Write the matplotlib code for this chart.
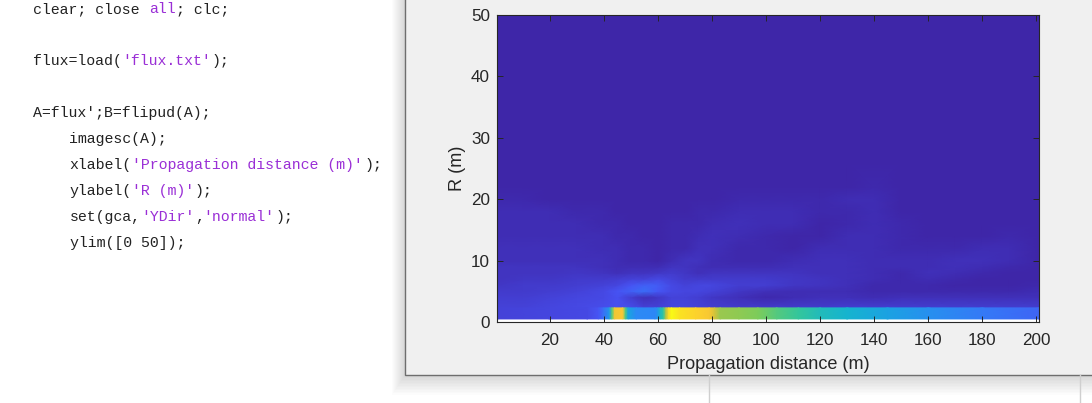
#!/usr/bin/env python3

import numpy as np
import matplotlib
matplotlib.use('Agg')
import matplotlib.pyplot as plt
from matplotlib.colors import LinearSegmentedColormap
from matplotlib.patches import Rectangle

plt.rcParams['font.family'] = ['Liberation Sans', 'DejaVu Sans']

# code listing, each line = (indent, [(text, is_string), ...])
code_lines = [
    (9, 0, [('clear; close ', 0), ('all', 1), ('; clc;', 0)]),
    (61, 0, [('flux=load(', 0), ("'flux.txt'", 1), (');', 0)]),
    (113, 0, [("A=flux';B=flipud(A);", 0)]),
    (139, 1, [('imagesc(A);', 0)]),
    (165, 1, [('xlabel(', 0), ("'Propagation distance (m)'", 1), (');', 0)]),
    (191, 1, [('ylabel(', 0), ("'R (m)'", 1), (');', 0)]),
    (217, 1, [('set(gca,', 0), ("'YDir'", 1), (',', 0), ("'normal'", 1), (');', 0)]),
    (243, 1, [('ylim([0 50]);', 0)]),
]

# flux along the axis (bottom band), percent of colour range
band_x = [0.5, 20, 34, 38, 40, 42, 43, 44, 47, 48, 49, 52, 59, 60, 61, 62, 63, 64, 65,
          68, 74, 79, 81, 83, 90, 97, 104, 112, 120, 130, 145, 160, 180, 201]
band_v = [8, 9, 10, 13, 20, 30, 55, 84, 87, 55, 34, 26, 25, 30, 42, 48, 72, 92, 100,
          94, 90, 86, 78, 67, 65, 62, 55, 49, 43, 39, 33, 28, 22, 17]

# flux above the band, percent of colour range
field_x = [0.5, 10, 20, 30, 40, 45, 50, 55, 60, 65, 70, 75, 80, 90, 100, 110, 120,
           130, 140, 150, 160, 170, 180, 190, 201]
field_r = [2.3, 4, 5, 6, 7, 8, 9, 10, 12, 14, 16, 18, 20, 22, 26, 50]
field_v = [
    [8, 8, 9, 10, 11, 12, 11, 8, 8, 9, 9, 8, 7, 6, 6, 6, 6, 7, 7, 7, 7, 7, 7, 7, 7],
    [7, 7, 8, 9, 10, 12, 7, 3, 5, 8, 8, 7, 5, 3, 1, 2, 3, 3, 2, 3, 3, 3, 3, 3, 3],
    [6, 6, 7, 8, 10, 13, 16, 19, 14, 10, 9, 9, 8, 5, 3, 2, 2, 2, 1, 1, 1, 1, 1, 1, 2],
    [5, 6, 6, 7, 8, 9, 13, 16, 15, 10, 8, 9, 9, 7, 7, 5, 4, 3, 1, 1, 1, 0, 0, 0, 1],
    [4, 5, 5, 6, 6, 7, 8, 8, 10, 8, 6, 6, 6, 6, 6, 5, 4, 3, 2, 1, 2, 1, 0, 0, 0],
    [4, 4, 4, 5, 4, 3, 4, 4, 5, 6, 5, 3, 4, 4, 4, 4, 3, 3, 2, 1, 3, 2, 1, 0, 0],
    [4, 4, 4, 4, 3, 2, 2, 2, 2, 4, 4, 3, 2, 2, 2, 3, 3, 3, 2, 2, 2, 3, 2, 1, 0],
    [3, 3, 3, 3, 3, 2, 1, 1, 0, 2, 4, 4, 2, 1, 1, 2, 3, 3, 2, 2, 2, 3, 3, 2, 0],
    [3, 3, 3, 3, 2, 2, 1, 1, 0, 1, 1, 3, 3, 1, 1, 0, 2, 2, 2, 1, 1, 1, 2, 2, 0],
    [2, 2, 2, 2, 2, 1, 1, 0, 0, 1, 1, 2, 3, 2, 1, 0, 0, 2, 2, 1, 0, 0, 0, 1, 0],
    [2, 2, 2, 2, 1, 1, 0, 0, 0, 1, 1, 1, 2, 3, 2, 2, 0, 1, 2, 1, 0, 0, 0, 0, 0],
    [2, 2, 2, 1, 1, 0, 0, 0, 0, 0, 0, 1, 1, 2, 2, 2, 1, 1, 2, 0, 0, 0, 0, 0, 0],
    [1, 1, 0, 0, 0, 0, 0, 0, 0, 0, 0, 0, 0, 1, 1, 1, 1, 2, 2, 0, 0, 0, 0, 0, 0],
    [0, 0, 0, 0, 0, 0, 0, 0, 0, 0, 0, 0, 0, 0, 0, 0, 0, 0, 1, 0, 0, 0, 0, 0, 0],
    [0, 0, 0, 0, 0, 0, 0, 0, 0, 0, 0, 0, 0, 0, 0, 0, 0, 0, 0, 0, 0, 0, 0, 0, 0],
    [0, 0, 0, 0, 0, 0, 0, 0, 0, 0, 0, 0, 0, 0, 0, 0, 0, 0, 0, 0, 0, 0, 0, 0, 0],
]

x_ticks = [20, 40, 60, 80, 100, 120, 140, 160, 180, 200]
y_ticks = [0, 10, 20, 30, 40, 50]

# parula by hand
parula = LinearSegmentedColormap.from_list('parula', [
    (0.00, (0.2422, 0.1504, 0.6603)),
    (0.125, (0.2810, 0.3228, 0.9579)),
    (0.25, (0.1786, 0.5289, 0.9682)),
    (0.375, (0.0689, 0.6948, 0.8394)),
    (0.50, (0.2161, 0.7843, 0.5923)),
    (0.625, (0.5044, 0.7993, 0.3480)),
    (0.75, (0.7800, 0.7600, 0.2400)),
    (0.875, (0.9955, 0.7861, 0.1968)),
    (1.00, (0.9769, 0.9839, 0.0805)),
])

W, H = 1092, 403
fig = plt.figure(figsize=(W / 100, H / 100), dpi=100, facecolor='white')

# background in pixel coordinates
bg = fig.add_axes([0, 0, 1, 1])
bg.set_xlim(0, W)
bg.set_ylim(H, 0)
bg.axis('off')

bg.plot([709, 709], [375, H], color='#cfcfcf', lw=1)
bg.plot([1080, 1080], [375, H], color='#cfcfcf', lw=1)
# window shadow
for i in range(14):
    bg.add_patch(Rectangle((405 - i, 0), W, 375 + 1.5 * i, color='black', alpha=0.012, lw=0))
bg.add_patch(Rectangle((405, -2), W, 377, facecolor='#f0f0f0', edgecolor='#6e6e6e', lw=1))

char_w = 8.95
for y, indent, parts in code_lines:
    x = 33 if indent == 0 else 69.5
    for text, is_string in parts:
        bg.text(x, y, text, family='Liberation Mono', fontsize=10.7, va='center', ha='left',
                color='#9a2fd6' if is_string else '#222222')
        x += len(text) * char_w

# the chart itself
ax = fig.add_axes([497 / W, 1 - 322 / H, (1039 - 497) / W, (322 - 15) / H])
ax.set_facecolor('white')
ax.pcolormesh(field_x, field_r, np.array(field_v) / 100, cmap=parula, vmin=0, vmax=1,
              shading='gouraud', rasterized=True)
ax.pcolormesh(band_x, [0.5, 2.3], np.array([band_v, band_v]) / 100, cmap=parula, vmin=0, vmax=1,
              shading='gouraud', rasterized=True)
ax.set_xlim(0.5, 201)
ax.set_ylim(0, 50)
ax.set_xticks(x_ticks)
ax.set_yticks(y_ticks)
ax.tick_params(direction='in', top=True, right=True, length=4, width=0.7, color='#262626',
               labelsize=12.3, labelcolor='#262626')
ax.tick_params(axis='x', pad=8)
ax.tick_params(axis='y', pad=5)
ax.set_xlabel('Propagation distance (m)', fontsize=13.1, color='#262626', labelpad=6)
ax.set_ylabel('R (m)', fontsize=13.1, color='#262626', labelpad=4)
for s in ax.spines.values():
    s.set_linewidth(0.8)
    s.set_color('#262626')

fig.savefig('out.png', dpi=100)
